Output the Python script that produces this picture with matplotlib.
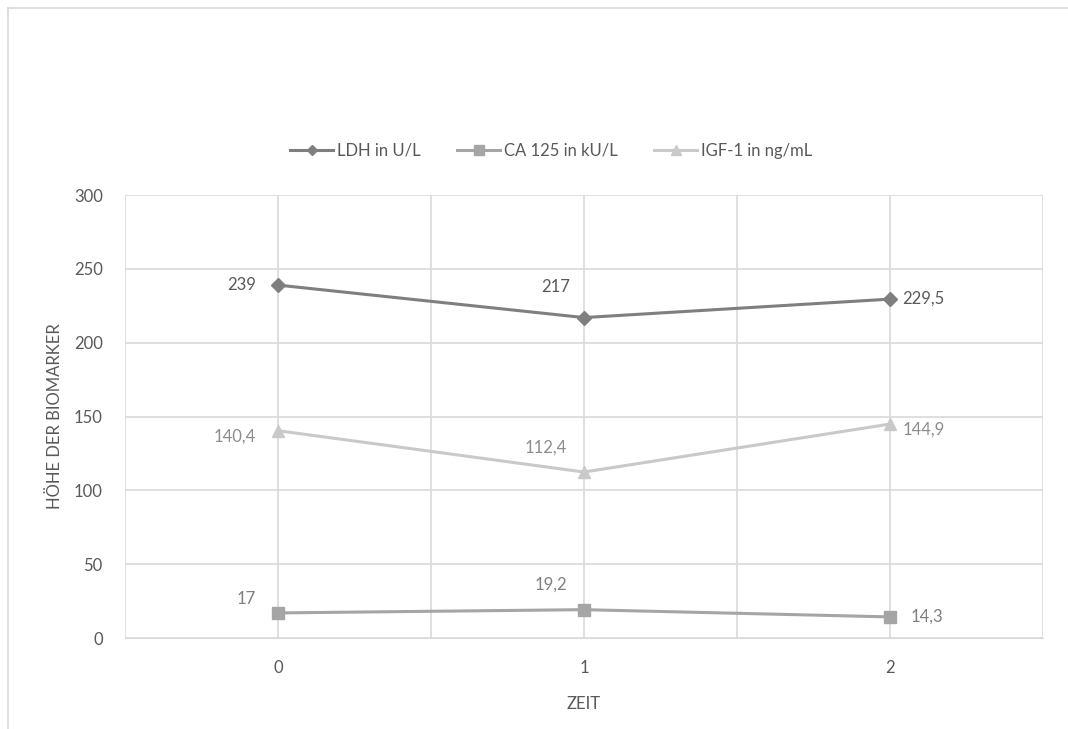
import numpy as np
import matplotlib.pyplot as plt
from matplotlib.lines import Line2D

plt.rcParams['font.family'] = ['Lato', 'DejaVu Sans']

# Zeitpunkte und Messwerte der Biomarker
zeit = ['0', '1', '2']
ldh = [239, 217, 229.5]
ca125 = [17, 19.2, 14.3]
igf1 = [140.4, 112.4, 144.9]

x = np.arange(len(zeit))

fig = plt.figure(figsize=(10.68, 7.29), dpi=100)
ax = fig.add_axes([0.117, 0.1248, 0.8596, 0.6077])

# Rahmen des Diagrammbereichs (oben und links sichtbar)
fig.add_artist(Line2D([8 / 1068, 1.0], [1 - 8 / 729] * 2, color='#d9d9d9', lw=1.2))
fig.add_artist(Line2D([8 / 1068] * 2, [0.0, 1 - 8 / 729], color='#d9d9d9', lw=1.2))

ax.plot(x, ldh, color='#7f7f7f', lw=2.2, marker='D', ms=7, label='LDH in U/L', zorder=3)
ax.plot(x, ca125, color='#a5a5a5', lw=2.2, marker='s', ms=9, label='CA 125 in kU/L', zorder=3)
ax.plot(x, igf1, color='#c9c9c9', lw=2.2, marker='^', ms=9, label='IGF-1 in ng/mL', zorder=3)

def fmt(v):
    s = ('%g' % v).replace('.', ',')
    return s

lbl = dict(fontsize=12)
# LDH Beschriftungen
ax.annotate(fmt(ldh[0]), (x[0], ldh[0]), xytext=(-16, 0), textcoords='offset points',
            ha='right', va='center', color='#595959', **lbl)
ax.annotate(fmt(ldh[1]), (x[1], ldh[1]), xytext=(-10, 16), textcoords='offset points',
            ha='right', va='bottom', color='#595959', **lbl)
ax.annotate(fmt(ldh[2]), (x[2], ldh[2]), xytext=(9, 0), textcoords='offset points',
            ha='left', va='center', color='#595959', **lbl)
# CA 125 Beschriftungen
ax.annotate(fmt(ca125[0]), (x[0], ca125[0]), xytext=(-16, 10), textcoords='offset points',
            ha='right', va='center', color='#7f7f7f', **lbl)
ax.annotate(fmt(ca125[1]), (x[1], ca125[1]), xytext=(-12, 12), textcoords='offset points',
            ha='right', va='bottom', color='#7f7f7f', **lbl)
ax.annotate(fmt(ca125[2]), (x[2], ca125[2]), xytext=(15, 0), textcoords='offset points',
            ha='left', va='center', color='#7f7f7f', **lbl)
# IGF-1 Beschriftungen
ax.annotate(fmt(igf1[0]), (x[0], igf1[0]), xytext=(-16, -4), textcoords='offset points',
            ha='right', va='center', color='#8c8c8c', **lbl)
ax.annotate(fmt(igf1[1]), (x[1], igf1[1]), xytext=(-12, 12), textcoords='offset points',
            ha='right', va='bottom', color='#8c8c8c', **lbl)
ax.annotate(fmt(igf1[2]), (x[2], igf1[2]), xytext=(9, -4), textcoords='offset points',
            ha='left', va='center', color='#8c8c8c', **lbl)

ax.set_xlim(-0.5, 2.5)
ax.set_ylim(0, 300)
ax.set_yticks(np.arange(0, 301, 50))
ax.set_xticks(x)
ax.set_xticklabels(zeit)
ax.set_xticks(np.arange(-0.5, 2.6, 1.0), minor=True)
ax.grid(True, which='both', axis='x', color='#d9d9d9', lw=1.2)
ax.grid(True, which='major', axis='y', color='#d9d9d9', lw=1.2)
ax.set_axisbelow(True)
for s in ax.spines.values():
    s.set_visible(False)
ax.spines['bottom'].set_visible(True)
ax.spines['bottom'].set_color('#d9d9d9')
ax.tick_params(which='both', length=0)
ax.tick_params(axis='x', pad=16, labelsize=12, labelcolor='#595959')
ax.tick_params(axis='y', pad=16, labelsize=12, labelcolor='#595959')

ax.set_xlabel('ZEIT', fontsize=12, color='#595959', labelpad=14)
ax.set_ylabel('HÖHE DER BIOMARKER', fontsize=12, color='#595959', labelpad=8)

ax.legend(loc='center', bbox_to_anchor=(0.464, 1.10), ncol=3, frameon=False,
          fontsize=12, labelcolor='#595959', handlelength=2.6, columnspacing=2.2,
          handletextpad=0.2, markerscale=0.8)

fig.savefig('out.png', dpi=100)
